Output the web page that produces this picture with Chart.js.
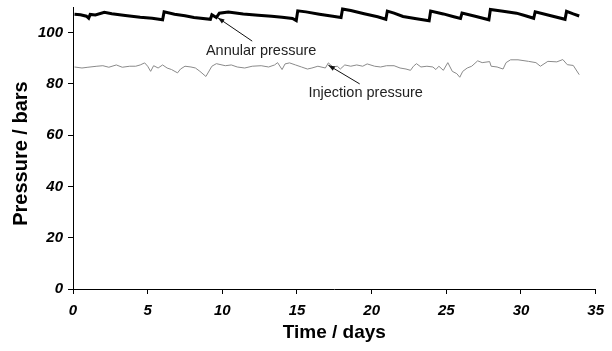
<!DOCTYPE html>
<html>
<head>
<meta charset="utf-8">
<script src="https://cdn.jsdelivr.net/npm/chart.js@4/dist/chart.umd.min.js"></script>
<style>
  html, body { margin: 0; padding: 0; background: #fff; }
  #box { width: 612px; height: 351px; }
</style>
</head>
<body>
<div id="box"><canvas id="MyChart"></canvas></div>
<script>

// annular pressure, [day, bars]
const annularDays = [0.1, 0.5, 0.9, 1.05, 1.15, 1.5, 2.1, 2.6, 3.5, 4.5, 5.3, 6.0, 6.1, 6.8, 7.5, 8.1, 9.2, 9.3, 9.6, 9.8,
    10.4, 11.4, 12.4, 13.3, 14.0, 14.7, 14.95, 15.05, 15.6, 16.5, 17.4, 17.95, 18.05, 18.6, 19.5, 20.4, 20.95, 21.05, 21.5, 22.1,
    23.0, 23.85, 23.95, 24.8, 25.5, 25.95, 26.05, 27.0, 27.85, 27.95, 28.8, 29.7, 30.3, 30.85, 30.95, 32.0, 32.95, 33.05, 33.5, 33.9];
const annularBars = [107.2, 107.0, 106.4, 105.6, 107.1, 106.9, 107.9, 107.4, 106.7, 106.0, 105.6, 105.0, 108.1, 107.2, 106.6, 105.9, 105.2, 107.0, 105.9, 107.6,
    108.0, 107.3, 106.8, 106.4, 106.0, 105.5, 104.7, 108.5, 108.1, 107.2, 106.4, 105.9, 109.2, 108.6, 107.4, 106.2, 105.2, 108.4, 107.6, 106.3,
    105.4, 104.6, 108.4, 107.3, 106.2, 105.5, 107.6, 106.3, 105.0, 109.0, 108.3, 107.6, 106.6, 105.6, 108.1, 106.6, 105.2, 108.3, 107.3, 106.5];

// injection pressure
const injDays = [0.1, 0.6, 1.0, 1.6, 2.0, 2.4, 2.9, 3.3, 3.8, 4.2, 4.5, 4.8, 5.0, 5.2, 5.4, 5.7, 6.0, 6.3, 6.6, 7.0,
    7.2, 7.5, 7.9, 8.2, 8.5, 8.9, 9.3, 9.6, 10.2, 10.6, 11.0, 11.5, 12.0, 12.6, 13.1, 13.5, 13.7, 14.0, 14.2, 14.5,
    14.9, 15.3, 15.7, 16.0, 16.4, 16.9, 17.1, 17.4, 17.7, 17.9, 18.2, 18.6, 19.0, 19.4, 19.7, 20.2, 20.6, 21.0, 21.5, 21.9,
    22.3, 22.6, 22.8, 23.0, 23.3, 23.7, 24.1, 24.3, 24.5, 24.8, 25.1, 25.4, 25.7, 25.9, 26.1, 26.4, 26.7, 27.1, 27.4, 27.9,
    28.0, 28.4, 28.8, 29.0, 29.3, 29.8, 30.5, 31.0, 31.3, 31.8, 32.4, 32.8, 33.1, 33.5, 33.9];
const injBars = [86.6, 86.2, 86.5, 86.9, 87.1, 86.5, 87.4, 86.5, 86.9, 86.9, 87.4, 88.2, 86.9, 84.9, 87.1, 86.2, 87.4, 86.2, 85.6, 84.3,
    85.8, 86.9, 86.6, 86.2, 84.9, 82.9, 86.9, 87.9, 87.1, 87.4, 86.6, 86.2, 86.9, 87.1, 86.6, 87.4, 88.3, 85.6, 87.8, 88.2,
    87.4, 86.6, 85.8, 86.2, 86.9, 86.2, 88.2, 86.6, 86.9, 85.8, 87.4, 86.9, 87.4, 86.9, 87.8, 86.9, 86.6, 87.1, 87.1, 86.2,
    85.8, 85.3, 86.9, 87.9, 86.6, 86.9, 86.6, 85.6, 86.9, 85.3, 88.3, 84.9, 84.0, 82.6, 84.9, 86.2, 86.9, 89.0, 88.3, 88.7,
    86.9, 86.6, 85.8, 88.3, 89.4, 89.4, 88.8, 88.3, 86.9, 88.8, 88.6, 89.5, 87.5, 87.2, 83.6];

const dayTicks = [0, 5, 10, 15, 20, 25, 30, 35];
const barTicks = [0, 20, 40, 60, 80, 100];

// labels with arrows: text position and arrow from -> to, all in data units
const notes = [
    {text: 'Annular pressure', at: [12.6, 92.9], from: [12.0, 96.7], to: [9.7, 105.8]},
    {text: 'Injection pressure', at: [19.6, 76.3], from: [19.2, 80.0], to: [17.1, 87.3]}
];

const toPts = (xs, ys) => xs.map((x, i) => ({x: x, y: ys[i]}));

const notesPlugin = {
    id: 'notes',
    afterDatasetsDraw(chart) {
        const c = chart.ctx;
        const xs = chart.scales.x, ys = chart.scales.y;
        c.save();
        notes.forEach(n => {
            const x1 = xs.getPixelForValue(n.from[0]), y1 = ys.getPixelForValue(n.from[1]);
            const x2 = xs.getPixelForValue(n.to[0]), y2 = ys.getPixelForValue(n.to[1]);
            c.strokeStyle = '#111';
            c.fillStyle = '#111';
            c.lineWidth = 1;
            c.beginPath();
            c.moveTo(x1, y1);
            c.lineTo(x2, y2);
            c.stroke();
            const a = Math.atan2(y2 - y1, x2 - x1);
            c.beginPath();
            c.moveTo(x2, y2);
            c.lineTo(x2 - 7 * Math.cos(a - 0.35), y2 - 7 * Math.sin(a - 0.35));
            c.lineTo(x2 - 7 * Math.cos(a + 0.35), y2 - 7 * Math.sin(a + 0.35));
            c.closePath();
            c.fill();
            c.font = '14.5px "Liberation Sans", Arial, sans-serif';
            c.fillStyle = '#222';
            c.textAlign = 'center';
            c.textBaseline = 'middle';
            c.fillText(n.text, xs.getPixelForValue(n.at[0]), ys.getPixelForValue(n.at[1]));
        });
        c.restore();
    }
};

const tickFont = {family: '"Liberation Sans", Arial, sans-serif', size: 15, weight: 'bold', style: 'italic'};
const titleFont = {family: '"Liberation Sans", Arial, sans-serif', size: 19, weight: 'bold'};

const ctx = document.getElementById('MyChart').getContext('2d');
let myChart = new Chart(ctx, {
    type: 'line',
    data: {
        datasets: [{
            label: 'Annular pressure',
            data: toPts(annularDays, annularBars),
            borderColor: '#000',
            borderWidth: 3,
            pointRadius: 0,
            tension: 0
        }, {
            label: 'Injection pressure',
            data: toPts(injDays, injBars),
            borderColor: '#8a8a8a',
            borderWidth: 1,
            pointRadius: 0,
            tension: 0
        }]
    },
    options: {
        responsive: true,
        maintainAspectRatio: false,
        animation: false,
        layout: {padding: {top: 7, right: 15, left: 0, bottom: 0}},
        plugins: {legend: {display: false}, tooltip: {enabled: false}},
        scales: {
            x: {
                type: 'linear',
                min: 0, max: 35,
                afterBuildTicks: s => { s.ticks = dayTicks.map(v => ({value: v})); },
                afterFit: s => { s.height = 62; },
                grid: {drawOnChartArea: false, drawTicks: true, tickLength: 5, color: '#000'},
                border: {color: '#000', width: 1},
                ticks: {font: tickFont, color: '#000', padding: 8, maxRotation: 0},
                title: {display: true, text: 'Time / days', font: titleFont, color: '#000', padding: {top: 0, bottom: 7}}
            },
            y: {
                min: 0, max: 110,
                afterBuildTicks: s => { s.ticks = barTicks.map(v => ({value: v})); },
                afterFit: s => { s.width = 73; s.paddingTop = 0; s.paddingBottom = 0; },
                grid: {drawOnChartArea: false, drawTicks: true, tickLength: 5, color: '#000'},
                border: {color: '#000', width: 1},
                ticks: {font: tickFont, color: '#000', padding: 5},
                title: {display: true, text: 'Pressure / bars  ', font: {family: titleFont.family, size: 20, weight: 'bold'}, color: '#000', padding: {top: 9, bottom: 0}}
            }
        }
    },
    plugins: [notesPlugin]
});
</script>
</body>
</html>
